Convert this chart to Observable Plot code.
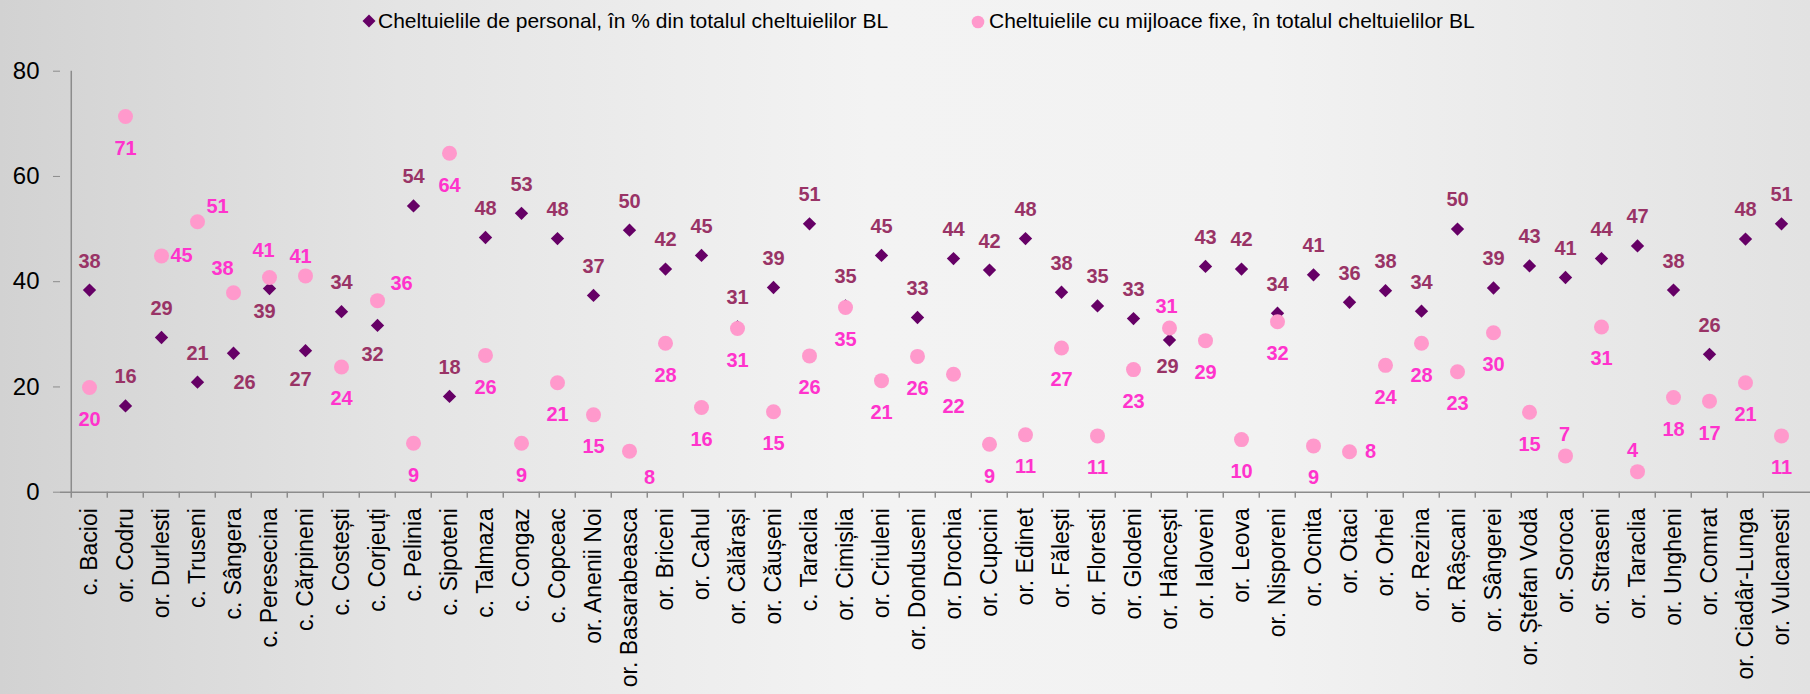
<!DOCTYPE html>
<html>
<head>
<meta charset="utf-8">
<script src="https://cdn.jsdelivr.net/npm/d3@7"></script>
<script src="https://cdn.jsdelivr.net/npm/@observablehq/plot@0.6"></script>
<style>
  html, body { margin: 0; padding: 0; }
  body {
    width: 1810px; height: 694px; overflow: hidden;
    background: linear-gradient(to right, #d2d2d2 0%, #e4e4e4 22%, #f3f3f3 48%, #f2f2f2 70%, #e2e2e2 100%);
    font-family: "Liberation Sans", Arial, sans-serif;
  }
  #legend { position: relative; height: 40px; width: 1810px; }
  #chart { height: 654px; }
  #chart svg { display: block; }
  .lg-item { position: absolute; top: 0; height: 42px; display: flex; align-items: center; font-size: 21px; color: #000; white-space: nowrap; }
  .lg-sym { position: absolute; }
</style>
</head>
<body>
<div id="legend"></div>
<div id="chart"></div>
<script>
// ---- data ----
const categories = [
  "c. Bacioi", "or. Codru", "or. Durlesti", "c. Truseni", "c. Sângera", "c. Peresecina",
  "c. Cărpineni", "c. Costești", "c. Corjeuți", "c. Pelinia", "c. Sipoteni", "c. Talmaza",
  "c. Congaz", "c. Copceac", "or. Anenii Noi", "or. Basarabeasca", "or. Briceni", "or. Cahul",
  "or. Călărași", "or. Căușeni", "c. Taraclia", "or. Cimișlia", "or. Criuleni", "or. Donduseni",
  "or. Drochia", "or. Cupcini", "or. Edinet", "or. Fălești", "or. Floresti", "or. Glodeni",
  "or. Hâncești", "or. Ialoveni", "or. Leova", "or. Nisporeni", "or. Ocnita", "or. Otaci",
  "or. Orhei", "or. Rezina", "or. Râșcani", "or. Sângerei", "or. Ștefan Vodă", "or. Soroca",
  "or. Straseni", "or. Taraclia", "or. Ungheni", "or. Comrat", "or. Ciadâr-Lunga", "or. Vulcanesti"
];
const personal = [
  38.4, 16.4, 29.4, 20.9, 26.4, 38.7, 26.9, 34.3, 31.7, 54.4, 18.2, 48.4,
  53.0, 48.2, 37.4, 49.8, 42.4, 45.0, 31.4, 38.9, 51.0, 35.4, 45.0, 33.2,
  44.4, 42.2, 48.2, 38.0, 35.4, 33.0, 28.9, 42.9, 42.4, 34.0, 41.3, 36.1,
  38.3, 34.4, 50.0, 38.8, 43.0, 40.8, 44.4, 46.8, 38.4, 26.2, 48.1, 51.0
];
const fixe = [
  19.9, 71.4, 44.9, 51.4, 37.9, 40.8, 41.1, 23.8, 36.4, 9.3, 64.4, 26.0,
  9.3, 20.8, 14.7, 7.8, 28.3, 16.1, 31.1, 15.3, 25.9, 35.1, 21.2, 25.8,
  22.4, 9.1, 10.9, 27.4, 10.7, 23.3, 31.2, 28.8, 10.0, 32.4, 8.8, 7.7,
  24.1, 28.3, 22.9, 30.3, 15.2, 6.9, 31.4, 3.9, 18.0, 17.3, 20.8, 10.7
];
const seriesNames = [
  "Cheltuielile de personal, în % din totalul cheltuielilor BL",
  "Cheltuielile cu mijloace fixe, în totalul cheltuielilor BL"
];
const yTicks = [0, 20, 40, 60, 80];

// ---- styling / label placement (not data) ----
const colPersonal = "#660066", colPersonalLbl = "#993366";
const colFixe = "#ff99cc", colFixeLbl = "#ff33cc";
const defP = [0, -29], defF = [0, 32];
const offP = {
  "c. Sângera": [11, 29], "c. Peresecina": [-5, 23], "c. Cărpineni": [-5, 29],
  "c. Corjeuți": [-5, 29], "or. Hâncești": [-2, 26]
};
const offF = {
  "or. Durlesti": [20, 0], "c. Truseni": [20, -15], "c. Sângera": [-11, -24],
  "c. Peresecina": [-6, -27], "c. Cărpineni": [-5, -19], "c. Corjeuți": [24, -17],
  "or. Basarabeasca": [20, 26], "or. Hâncești": [-3, -21], "or. Otaci": [21, 0],
  "or. Soroca": [-1, -21], "or. Taraclia": [-5, -21]
};

// ---- legend ----
const legend = document.getElementById("legend");
legend.innerHTML = `
  <svg class="lg-sym" style="left:362px;top:14px" width="14" height="14"><path d="M7 0.5 L13.5 7 L7 13.5 L0.5 7 Z" fill="${colPersonal}"/></svg>
  <div class="lg-item" style="left:378px">${seriesNames[0]}</div>
  <svg class="lg-sym" style="left:971px;top:15px" width="14" height="14"><circle cx="7" cy="7" r="6.3" fill="${colFixe}"/></svg>
  <div class="lg-item" style="left:989px">${seriesNames[1]}</div>
`;

// ---- chart ----
const W = 1810, H = 654, mL = 60, mR = 0, mT = 30.7, mB = 202.3;
const step = (W - mL - mR) / categories.length;
const unitPx = (H - mT - mB) / 80;
const tickBelow = -6 / unitPx;

const rowsP = categories.map((c, i) => ({cat: c, v: personal[i], off: offP[c] || defP}));
const rowsF = categories.map((c, i) => ({cat: c, v: fixe[i], off: offF[c] || defF}));

function labelMarks(rows, fill) {
  return d3.groups(rows, d => d.off.join(",")).map(([k, g]) =>
    Plot.text(g, {
      x: "cat", y: "v", text: d => String(Math.round(d.v)),
      dx: g[0].off[0], dy: g[0].off[1],
      fill, fontSize: 20, fontWeight: "bold", textAnchor: "middle", lineAnchor: "middle"
    })
  );
}

const chart = Plot.plot({
  width: W, height: H,
  marginLeft: mL, marginRight: mR, marginTop: mT, marginBottom: mB,
  style: {background: "transparent", fontFamily: "'Liberation Sans', Arial, sans-serif", color: "#000", overflow: "visible"},
  x: {type: "band", domain: categories, padding: 0, label: null},
  y: {domain: [0, 80], label: null},
  marks: [
    Plot.ruleY([0], {stroke: "#8c8c8c", strokeWidth: 1.5}),
    Plot.ruleX([categories[0]], {dx: -step / 2, y1: tickBelow, y2: 80, stroke: "#8c8c8c", strokeWidth: 1.5}),
    Plot.ruleX(categories.slice(1), {x: d => d, dx: -step / 2, y1: 0, y2: tickBelow, stroke: "#8c8c8c", strokeWidth: 1.5}),
    Plot.axisY({ticks: yTicks, tickSize: 7, tickPadding: 14, fontSize: 24, stroke: "#8c8c8c", fill: "#000", label: null}),
    Plot.axisX({tickSize: 0, tickRotate: -90, tickPadding: 16, fontSize: 23, fill: "#000", label: null}),
    Plot.dot(rowsP, {x: "cat", y: "v", symbol: "diamond2", r: 6, fill: colPersonal, stroke: "none"}),
    Plot.dot(rowsF, {x: "cat", y: "v", symbol: "circle", r: 7.5, fill: colFixe, stroke: "none"}),
    ...labelMarks(rowsP, colPersonalLbl),
    ...labelMarks(rowsF, colFixeLbl)
  ]
});
document.getElementById("chart").appendChild(chart);
</script>
</body>
</html>
